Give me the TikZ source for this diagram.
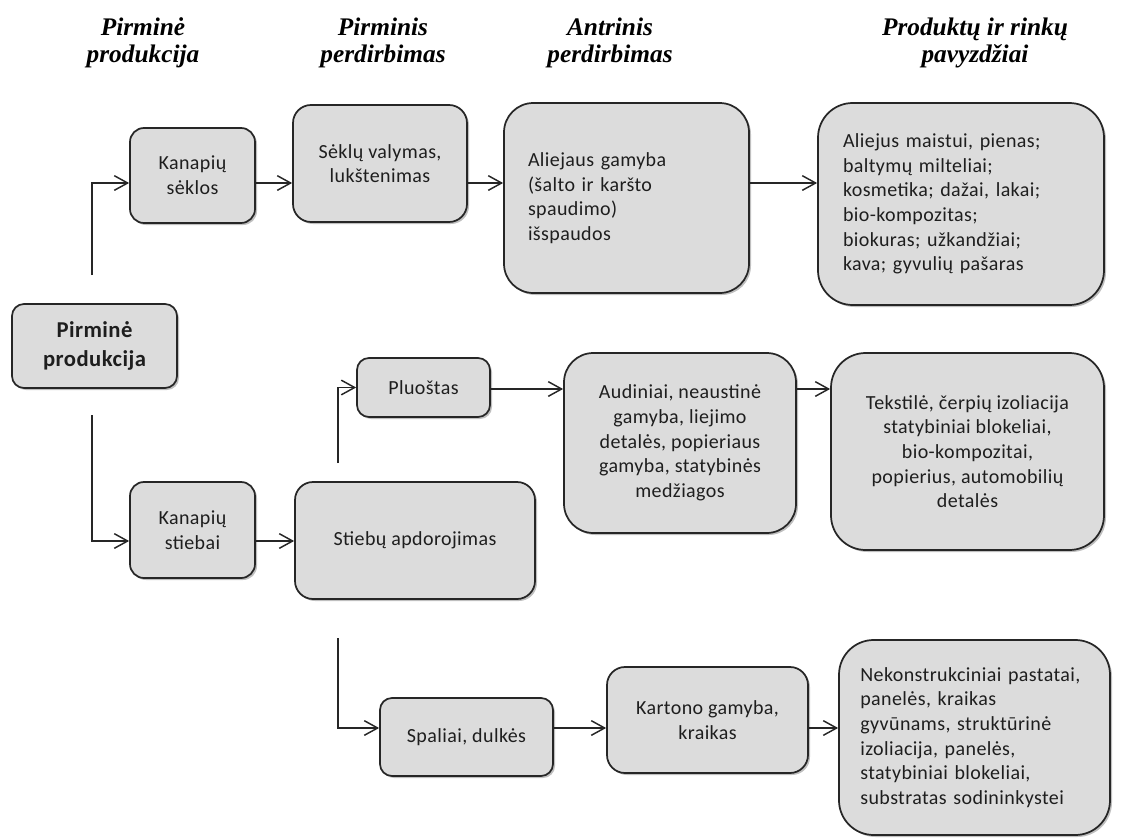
\documentclass[tikz,border=0pt]{standalone}
\usepackage{fontspec}
\setmainfont{Carlito}[LetterSpace=2]
\newfontfamily\titlefont{Liberation Serif}
\usetikzlibrary{arrows.meta,shadows}
\definecolor{boxfill}{HTML}{DCDCDC}
\definecolor{edge}{HTML}{262626}
\definecolor{txt}{HTML}{1E1E1E}
\tikzset{
  pbox/.style={draw=edge, fill=boxfill, line width=1.3pt, rounded corners=#1,
    drop shadow={shadow xshift=1.5pt, shadow yshift=-1.5pt, opacity=0.25, fill=black},
    inner sep=0pt, font=\fontsize{15}{18.5}\selectfont, text=txt, align=center},
  pbox/.default=10pt,
  arr/.style={draw=edge, line width=1.1pt, -{Straight Barb[length=10pt,width=11pt,line width=1.1pt]}},
  ttl/.style={font=\titlefont\bfseries\itshape\fontsize{19}{20.25}\selectfont, align=center, text=black}
}
\begin{document}
\begin{tikzpicture}[x=0.75pt,y=-0.75pt]
\fill[white] (0,0) rectangle (1125,839);
\useasboundingbox (0,0) rectangle (1125,839);

% titles
\node[ttl] (t1) at (143,43) {Pirminė\\produkcija};
\node[ttl] (t2) at (383,43) {Pirminis\\perdirbimas};
\node[ttl] (t3) at (610,43) {Antrinis\\perdirbimas};
\node[ttl] (t4) at (975,43) {Produktų ir rinkų\\pavyzdžiai};

% boxes
\node[pbox=9pt, minimum width=123.75pt, minimum height=63pt,
      font=\bfseries\fontsize{17}{21.5}\selectfont] (pp) at (94.5,346) {Pirminė\\produkcija};
\node[pbox=10.5pt, minimum width=93.75pt, minimum height=71.25pt] (ks) at (192.5,175.5) {Kanapių\\sėklos};
\node[pbox=13.5pt, minimum width=130.5pt, minimum height=87.75pt] (sv) at (380,163.5) {Sėklų valymas,\\lukštenimas};
\node[pbox=22pt, minimum width=183.75pt, minimum height=142.5pt, text width=147.75pt, align=left] (al) at (626.5,198)
  {Aliejaus gamyba\\(šalto ir karšto\\spaudimo)\\išspaudos};
\node[pbox=26pt, minimum width=214.5pt, minimum height=151.5pt, text width=177pt, align=left] (p1) at (961,204)
  {Aliejus maistui, pienas;\\baltymų milteliai;\\kosmetika; dažai, lakai;\\bio-kompozitas;\\biokuras; užkandžiai;\\kava; gyvulių pašaras};
\node[pbox=10.5pt, minimum width=93.75pt, minimum height=72pt] (st) at (192.5,530) {Kanapių\\stiebai};
\node[pbox=13.5pt, minimum width=180pt, minimum height=87.75pt] (sa) at (415,540.5) {Stiebų apdorojimas};
\node[pbox=9pt, minimum width=99.75pt, minimum height=44.25pt] (pl) at (423.5,387.5) {Pluoštas};
\node[pbox=22pt, minimum width=174pt, minimum height=135pt] (au) at (680,443)
  {Audiniai, neaustinė\\gamyba, liejimo\\detalės, popieriaus\\gamyba, statybinės\\medžiagos};
\node[pbox=26pt, minimum width=204.75pt, minimum height=147.75pt] (te) at (967.5,451.5)
  {Tekstilė, čerpių izoliacija\\statybiniai blokeliai,\\bio-kompozitai,\\popierius, automobilių\\detalės};
\node[pbox=9pt, minimum width=129.75pt, minimum height=58.5pt] (sp) at (466.5,737) {Spaliai, dulkės};
\node[pbox=13.5pt, minimum width=150.75pt, minimum height=79.5pt] (ka) at (707.5,720) {Kartono gamyba,\\kraikas};
\node[pbox=26pt, minimum width=203.25pt, minimum height=146.25pt, text width=171.25pt, align=left] (p3) at (974.5,737.5)
  {\mbox{Nekonstrukciniai pastatai,}\\\mbox{panelės, kraikas}\\\mbox{gyvūnams, struktūrinė}\\\mbox{izoliacija, panelės,}\\\mbox{statybiniai blokeliai,}\\\mbox{substratas sodininkystei}};

% helper coordinates
\coordinate (y183) at (0,183);
\coordinate (y541) at (0,541);
\coordinate (y389) at (0,389);
\coordinate (y728) at (0,728);
\coordinate (aTop) at (92,275);
\coordinate (aBot) at (92,415);
\coordinate (sUp) at (338,463);
\coordinate (sDn) at (338,638);

% connectors
\draw[arr] (aTop) |- (ks.west |- y183);
\draw[arr] (ks.east |- y183) -- (sv.west |- y183);
\draw[arr] (sv.east |- y183) -- (al.west |- y183);
\draw[arr] (al.east |- y183) -- (p1.west |- y183);
\draw[arr] (aBot) |- (st.west |- y541);
\draw[arr] (st.east |- y541) -- (sa.west |- y541);
\draw[arr] (sUp) |- (pl.west);
\draw[arr] (pl.east |- y389) -- (au.west |- y389);
\draw[arr] (au.east |- y389) -- (te.west |- y389);
\draw[arr] (sDn) |- (sp.west |- y728);
\draw[arr] (sp.east |- y728) -- (ka.west |- y728);
\draw[arr] (ka.east |- y728) -- (p3.west |- y728);
\end{tikzpicture}
\end{document}
